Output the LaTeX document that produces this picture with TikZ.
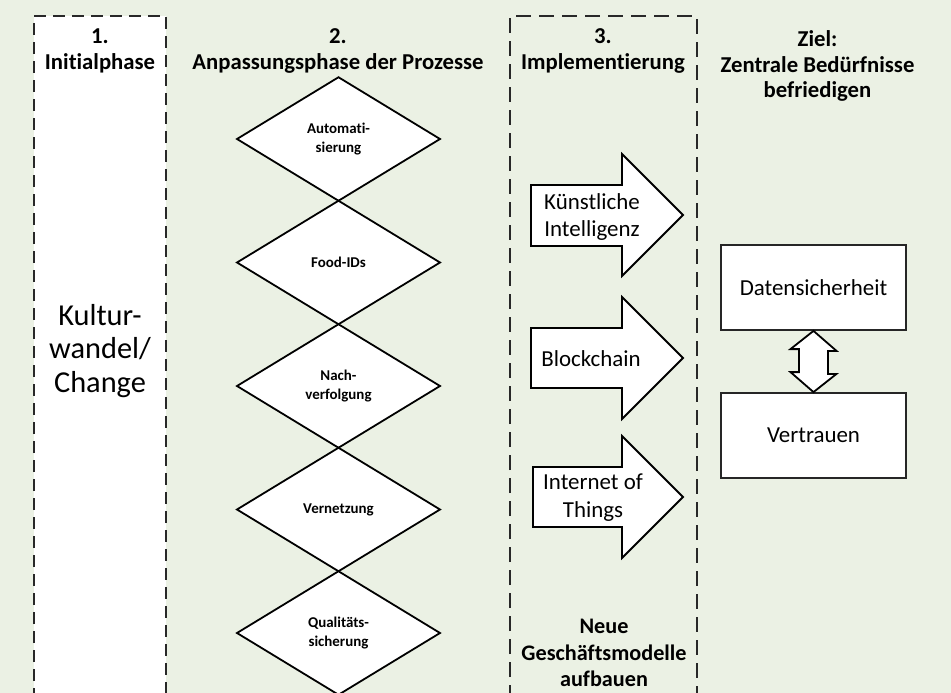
\documentclass[tikz,border=0pt]{standalone}
\usepackage{fontspec}
\setmainfont{Carlito}[Ligatures=NoCommon]
\usetikzlibrary{shapes.geometric}
\definecolor{bggreen}{RGB}{235,241,228}
\definecolor{dashgray}{RGB}{40,40,40}
\tikzset{
  headtxt/.style={align=center,font=\fontsize{22.8}{25.5}\selectfont\bfseries,inner sep=0pt},
  diam/.style={diamond,draw=black,line width=1.8bp,fill=white,minimum width=203bp,minimum height=123.5bp,inner sep=0pt,outer sep=0pt,align=center,font=\fontsize{15}{18.5}\selectfont\bfseries},
  arrtxt/.style={align=center,font=\fontsize{23}{28}\selectfont,inner sep=0pt},
  blockarrow/.style={draw=black,line width=1.8bp,fill=white,line join=miter},
  goalbox/.style={rectangle,draw=black!85,line width=1.8bp,fill=white,minimum width=185bp,minimum height=85bp,inner sep=0pt,font=\fontsize{23}{28}\selectfont},
  phasebox/.style={draw=dashgray,line width=2.6bp,dash pattern=on 12bp off 7bp},
  phasebox3/.style={draw=dashgray,line width=2bp,dash pattern=on 15bp off 8bp}
}
\begin{document}
\begin{tikzpicture}[x=1bp,y=-1bp]
\useasboundingbox (0,0) rectangle (951,693);
\fill[bggreen] (0,0) rectangle (951,693);
% phase 1 box
\fill[white] (34,16) rectangle (166,700);
\draw[phasebox] (34,700) -- (34,16) -- (166,16) -- (166,700);
% phase 3 box
\draw[phasebox3] (510,700) -- (510,16) -- (697,16) -- (697,700);
% headers
\node[headtxt] (h1) at (100,51) {1.\\Initialphase};
\node[headtxt] (h2) at (338,51) {2.\\Anpassungsphase der Prozesse};
\node[headtxt] (h3) at (603,51) {3.\\Implementierung};
\node[headtxt] (h4) at (817.5,66) {Ziel:\\Zentrale Bedürfnisse\\befriedigen};
% Kultur
\node[align=center,font=\fontsize{30.5}{34}\selectfont,inner sep=0pt] (kw) at (100,351) {Kultur-\\wandel/\\Change};
% diamonds
\node[diam] (d1) at (338.5,139) {Automati-\\sierung};
\node[diam] (d2) at (338.5,262.5) {Food-IDs};
\node[diam] (d3) at (338.5,386) {Nach-\\verfolgung};
\node[diam] (d4) at (338.5,509.5) {Vernetzung};
\node[diam] (d5) at (338.5,633) {Qualitäts-\\sicherung};
% block arrows
\draw[blockarrow] (531,185) -- (622,185) -- (622,154) -- (683,215) -- (622,276) -- (622,246) -- (531,246) -- cycle;
\draw[blockarrow] (531,328) -- (622,328) -- (622,297) -- (683,358) -- (622,419) -- (622,388) -- (531,388) -- cycle;
\draw[blockarrow] (533,467) -- (622,467) -- (622,436) -- (683,497) -- (622,558) -- (622,527) -- (533,527) -- cycle;
\node[arrtxt] (ki) at (592,217) {Künstliche\\Intelligenz};
\node[arrtxt] (bc) at (591,359) {Blockchain};
\node[arrtxt] (iot) at (593,498) {Internet of\\Things};
% goal boxes
\node[goalbox] (ds) at (813.5,287.5) {Datensicherheit};
\node[goalbox] (vt) at (813.5,435.5) {Vertrauen};
% double arrow between
\draw[blockarrow] (ds.south) -- ++(23,20) -- ++(-8.5,0) -- ++(0,23) -- ++(8.5,0) -- (vt.north) -- ++(-23,-20) -- ++(8.5,0) -- ++(0,-23) -- ++(-8.5,0) -- cycle;
% bottom text
\node[headtxt,font=\fontsize{22.3}{26.5}\selectfont\bfseries] (ng) at (604,653) {Neue\\Geschäftsmodelle\\aufbauen};
\end{tikzpicture}
\end{document}
